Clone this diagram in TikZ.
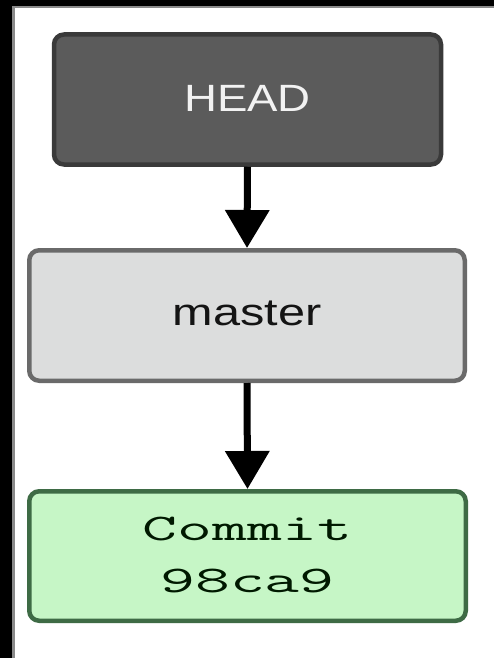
\documentclass[tikz,border=0pt]{standalone}
\usepackage{fontspec}
\setmainfont{Liberation Sans}
\usetikzlibrary{arrows.meta}
\definecolor{headfill}{HTML}{5B5B5B}
\definecolor{headdraw}{HTML}{3A3A3A}
\definecolor{headtext}{HTML}{F2F2F2}
\definecolor{masterfill}{HTML}{DCDDDD}
\definecolor{masterdraw}{HTML}{6A6A6A}
\definecolor{commitfill}{HTML}{C6F6C6}
\definecolor{commitdraw}{HTML}{3E6B45}
\definecolor{frameedge}{HTML}{8A8A8A}
\begin{document}
\begin{tikzpicture}[x=1pt,y=-1pt,
  box/.style={draw, rounded corners=10pt, line width=4.5pt, inner sep=0pt},
  headbox/.style={box, fill=headfill, draw=headdraw, text=headtext,
    minimum width=387pt, minimum height=130pt},
  masterbox/.style={box, fill=masterfill, draw=masterdraw, text=black!92,
    minimum width=435.5pt, minimum height=130.5pt},
  commitbox/.style={box, fill=commitfill, draw=commitdraw, text=black!90!green,
    minimum width=436.5pt, minimum height=129.5pt},
  conn/.style={line width=7pt, draw=black, -{Triangle[width=43pt,length=38pt]}}]
\useasboundingbox (0,0) rectangle (494,658);
\fill[white] (0,0) rectangle (494,658);
\fill[frameedge] (0,0) rectangle (494,8.5);
\fill[frameedge] (0,0) rectangle (15,658);
\fill[black] (0,0) rectangle (494,6);
\fill[black] (0,0) rectangle (12,658);
\node[headbox] (head) at (247.5,99.5)
  {\raisebox{3pt}{\fontsize{38}{40}\selectfont\scalebox{1.2}[1]{HEAD}}};
\node[masterbox] (master) at (247,315.5)
  {\raisebox{4pt}{\fontsize{38}{40}\selectfont\scalebox{1.28}[1]{master}}};
\node[commitbox] (commit) at (247.5,556)
  {\fontsize{37.6}{52}\selectfont\ttfamily\scalebox{1.8}[1]{\begin{tabular}{@{}c@{}}Commit\\98ca9\end{tabular}}};
\draw[conn] (head.south) -- (master.north);
\draw[conn] (master.south) -- (commit.north);
\end{tikzpicture}
\end{document}
